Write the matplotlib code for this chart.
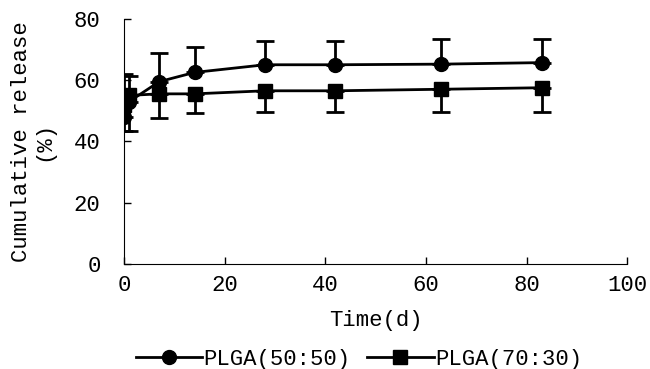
import numpy as np
import matplotlib
matplotlib.use('Agg')
import matplotlib.pyplot as plt

plt.rcParams['font.family'] = ['Liberation Mono', 'DejaVu Sans Mono']
plt.rcParams['font.size'] = 16

# release data
time_a = [0, 1, 7, 14, 28, 42, 63, 83]
rel_a = [48, 53, 59.5, 62.5, 65, 65, 65.2, 65.7]
err_a = [14, 8.4, 9.3, 8.3, 7.7, 7.7, 8.1, 7.8]   # upper bars only

time_b = [0, 1, 7, 14, 28, 42, 63, 83]
rel_b = [52, 55, 55.5, 55.5, 56.5, 56.5, 57, 57.5]
err_b = [8.5, 11.5, 7.8, 6.3, 6.8, 6.8, 7.3, 7.8]  # lower bars only

labels = ['PLGA(50:50)', 'PLGA(70:30)']

fig = plt.figure(figsize=(6.5, 3.69), dpi=100)
ax = fig.add_axes([0.191, 0.285, 0.774, 0.664])

zero_a = [0] * len(err_a)
zero_b = [0] * len(err_b)
ax.errorbar(time_a, rel_a, yerr=[zero_a, err_a], fmt='-o', color='k', lw=2,
            elinewidth=2, capsize=6.5, capthick=2, markersize=10,
            label=labels[0])
ax.errorbar(time_b, rel_b, yerr=[err_b, zero_b], fmt='-s', color='k', lw=2,
            elinewidth=2, capsize=6.5, capthick=2, markersize=10,
            label=labels[1])

ax.set_xlim(0, 100)
ax.set_ylim(0, 80)
ax.set_xticks(np.arange(0, 101, 20))
ax.set_yticks(np.arange(0, 81, 20))
ax.spines['top'].set_visible(False)
ax.spines['right'].set_visible(False)
ax.tick_params(direction='in', length=5, width=1)
ax.tick_params(axis='x', pad=8)
ax.tick_params(axis='y', pad=17)
ax.set_xlabel('Time(d)', labelpad=10)
ax.set_ylabel('Cumulative release\n(%)', labelpad=14, linespacing=1.1)

handles, lbls = ax.get_legend_handles_labels()
handles = [h[0] for h in handles]
fig.legend(handles, lbls, loc='center', ncol=2, frameon=False,
           bbox_to_anchor=(0.552, 0.025), handlelength=3.0,
           handletextpad=0.05, columnspacing=0.75, borderpad=0)

fig.savefig('out.png', dpi=100)
